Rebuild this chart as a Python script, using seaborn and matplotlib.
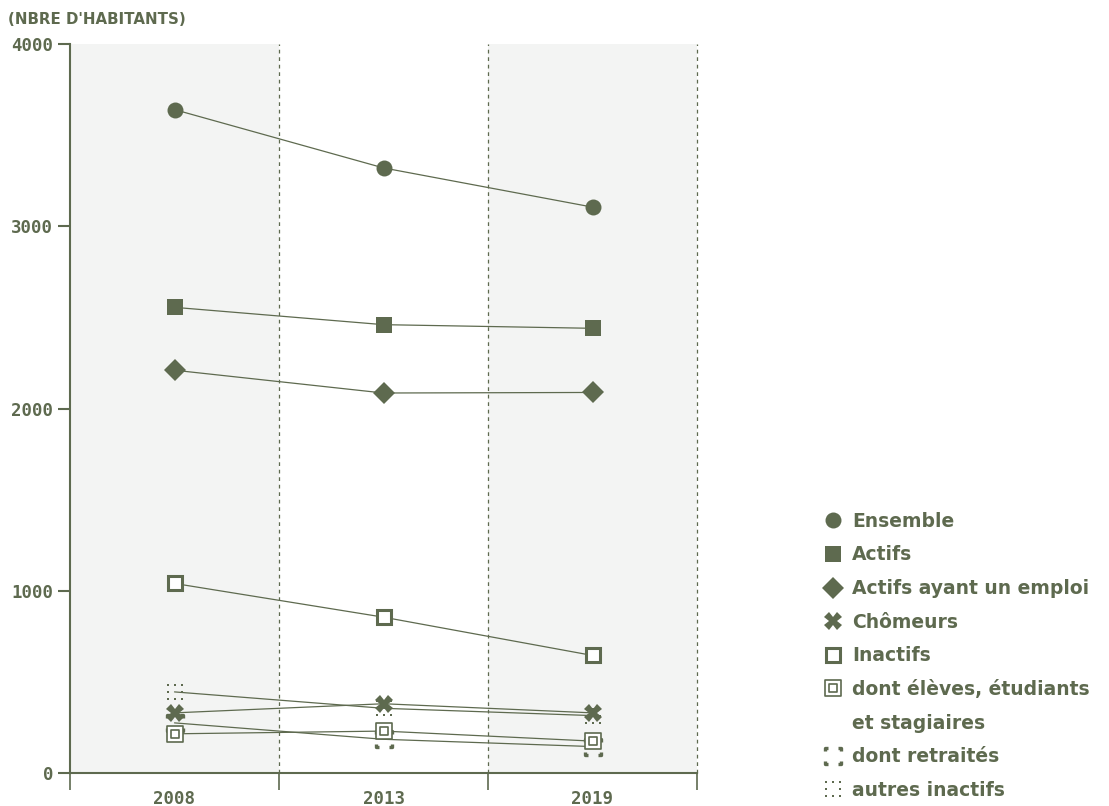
import numpy as np
import pandas as pd
import matplotlib
matplotlib.use("Agg")
import matplotlib.pyplot as plt
from matplotlib.path import Path
from matplotlib.lines import Line2D
import seaborn as sns

years = ["2008", "2013", "2019"]
ensemble = [3640, 3320, 3105]
actifs = [2555, 2460, 2440]
actifs_emploi = [2210, 2085, 2088]
chomeurs = [330, 380, 330]
inactifs = [1040, 855, 645]
eleves = [215, 230, 175]
retraites = [275, 185, 145]
autres = [445, 355, 315]
yticks = [0, 1000, 2000, 3000, 4000]

C = "#5e6a4f"
BAND = "#f3f4f3"

sns.set_style("white")
plt.rcParams["font.family"] = ["DejaVu Sans"]

# custom marker paths
def corners_path(a=0.4):
    verts, codes = [], []
    for sx, sy in [(-1, 1), (1, 1), (1, -1), (-1, -1)]:
        verts += [(sx, sy - sy * a), (sx, sy), (sx - sx * a, sy)]
        codes += [Path.MOVETO, Path.LINETO, Path.LINETO]
    return Path(verts, codes)

def dots_path(d=0.13):
    verts, codes = [], []
    for x in (-1, 0, 1):
        for y in (-1, 0, 1):
            if x == 0 and y == 0:
                continue
            verts += [(x - d, y - d), (x + d, y - d), (x + d, y + d), (x - d, y + d), (x - d, y - d)]
            codes += [Path.MOVETO, Path.LINETO, Path.LINETO, Path.LINETO, Path.CLOSEPOLY]
    return Path(verts, codes)

def double_square(r=0.55):
    verts, codes = [], []
    for s in (1.0, r):
        verts += [(-s, -s), (s, -s), (s, s), (-s, s), (-s, -s)]
        codes += [Path.MOVETO, Path.LINETO, Path.LINETO, Path.LINETO, Path.CLOSEPOLY]
    return Path(verts, codes)

series = [
    ("Ensemble", ensemble, dict(marker="o", markersize=11.5, markerfacecolor=C, markeredgewidth=0)),
    ("Actifs", actifs, dict(marker="s", markersize=11, markerfacecolor=C, markeredgewidth=0)),
    ("Actifs ayant un emploi", actifs_emploi, dict(marker="D", markersize=11, markerfacecolor=C, markeredgewidth=0)),
    ("Inactifs", inactifs, dict(marker="s", markersize=10, markerfacecolor="white", markeredgecolor=C, markeredgewidth=2.2)),
    ("dont retraités", retraites, dict(marker=corners_path(), markersize=11, markerfacecolor="none", markeredgecolor=C, markeredgewidth=2.4)),
    ("dont élèves, étudiants\net stagiaires", eleves, dict(marker=double_square(), markersize=11, markerfacecolor="white", markeredgecolor=C, markeredgewidth=1.2)),
    ("autres inactifs", autres, dict(marker=dots_path(), markersize=11, markerfacecolor=C, markeredgewidth=0)),
    ("Chômeurs", chomeurs, dict(marker="X", markersize=12.5, markerfacecolor=C, markeredgewidth=0)),
]

fig = plt.figure(figsize=(11.09, 8.06), dpi=100)
ax = fig.add_axes([70 / 1109, 33 / 806, 627 / 1109, 729 / 806])

xpos = np.arange(len(years))
ax.axvspan(-0.5, 0.5, color=BAND, lw=0, zorder=0)
ax.axvspan(1.5, 2.5, color=BAND, lw=0, zorder=0)
for b in (0.5, 1.5, 2.5):
    ax.axvline(b, color=C, lw=0.9, ls=(0, (3, 3)), zorder=1, clip_on=False)

for name, vals, kw in series:
    df = pd.DataFrame({"x": xpos, "y": vals})
    sns.lineplot(data=df, x="x", y="y", ax=ax, color=C, lw=0.9, zorder=3, **kw)

ax.set_xlim(-0.5, 2.5)
ax.set_ylim(0, 4000)
ax.set_xlabel("")
ax.set_ylabel("")
for s in ("top", "right"):
    ax.spines[s].set_visible(False)
for s in ("left", "bottom"):
    ax.spines[s].set_color(C)
    ax.spines[s].set_linewidth(1.5)

ax.set_yticks(yticks)
ax.set_yticklabels([str(t) for t in yticks])
ax.tick_params(axis="y", length=9, width=1.5, color=C, pad=3, labelcolor=C, left=True)
ax.set_xticks(xpos)
ax.set_xticklabels(years)
ax.set_xticks([-0.5, 0.5, 1.5, 2.5], minor=True)
ax.tick_params(axis="x", which="major", length=0, pad=12, labelcolor=C)
ax.tick_params(axis="x", which="minor", length=12, width=1.2, color=C, bottom=True)
for lab in ax.get_xticklabels() + ax.get_yticklabels():
    lab.set_fontfamily("DejaVu Sans Mono")
    lab.set_fontweight("bold")
    lab.set_fontsize(12.5)

fig.text(8 / 1109, 1 - 19 / 806, "(NBRE D'HABITANTS)", fontsize=10.8, fontweight="bold",
         family="DejaVu Sans", color=C, va="center", ha="left")

# legend
legend_order = ["Ensemble", "Actifs", "Actifs ayant un emploi", "Chômeurs", "Inactifs",
                "dont élèves, étudiants\net stagiaires", "dont retraités", "autres inactifs"]
kwmap = {n: kw for n, v, kw in series}
handles, labels = [], []
for n in legend_order:
    kw = dict(kwmap[n])
    if n.startswith("dont élèves"):
        handles.append(Line2D([], [], ls="none", color=C, **kw))
        labels.append("dont élèves, étudiants")
        handles.append(Line2D([], [], ls="none", marker=None))
        labels.append("et stagiaires")
    else:
        handles.append(Line2D([], [], ls="none", color=C, **kw))
        labels.append(n)

leg = fig.legend(handles, labels, loc="upper left", bbox_to_anchor=(807 / 1109, 1 - 495 / 806),
                 frameon=False, handlelength=1.0, handletextpad=0.5, labelspacing=0.78,
                 prop={"family": "DejaVu Sans", "weight": "bold", "size": 13.5})
for t in leg.get_texts():
    t.set_color(C)

fig.savefig("out.png", dpi=100)
